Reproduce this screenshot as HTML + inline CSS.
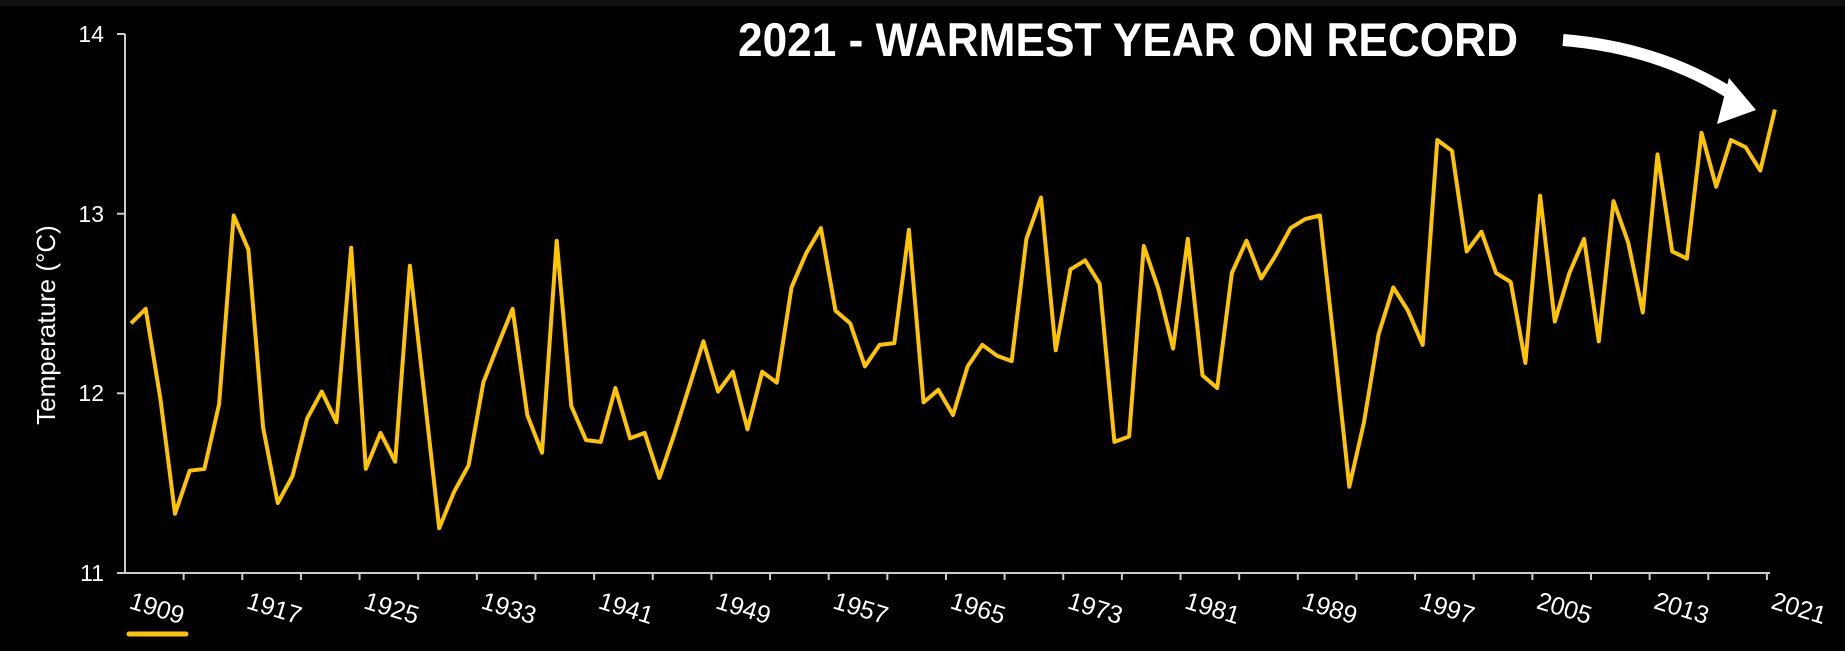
<!DOCTYPE html>
<html><head><meta charset="utf-8"><style>
html,body{margin:0;padding:0;background:#000;width:1845px;height:651px;overflow:hidden}
svg{display:block}
text{font-family:"Liberation Sans",sans-serif;fill:#fff}
</style></head><body>
<svg id="s" width="1845" height="651" viewBox="0 0 1845 651">
<rect x="0" y="0" width="1845" height="651" fill="#000"/>
<rect x="0" y="0" width="1845" height="6" fill="#111"/>
<g id="ax" stroke="#ccc" stroke-width="2" fill="none">
<line x1="125" y1="34" x2="125" y2="574"/>
<line x1="124" y1="573" x2="1770" y2="573"/>
<line x1="117" y1="34" x2="125" y2="34"/>
<line x1="117" y1="213.7" x2="125" y2="213.7"/>
<line x1="117" y1="393.3" x2="125" y2="393.3"/>
<line x1="117" y1="573" x2="125" y2="573"/>
</g>
<g font-size="23" text-anchor="end">
<text x="104" y="42">14</text>
<text x="104" y="222">13</text>
<text x="104" y="401">12</text>
<text x="104" y="581">11</text>
</g>
<text transform="translate(55,325) rotate(-90)" font-size="26" text-anchor="middle">Temperature (°C)</text>
<g id="xl" font-size="25"></g>
<line x1="129" y1="634" x2="186" y2="634" stroke="#FFC400" stroke-width="5" stroke-linecap="round"/>
<polyline id="pl" fill="none" stroke="#FFC400" stroke-width="4" stroke-linejoin="round" points=""/>
<text x="738" y="56" font-size="47" font-weight="bold" textLength="780" lengthAdjust="spacingAndGlyphs">2021 - WARMEST YEAR ON RECORD</text>
<path d="M1563,40 Q1662,48 1738,98" stroke="#fff" stroke-width="12" fill="none"/>
<polygon points="1729,78 1756,110 1717,124" fill="#fff"/>
</svg>
<script>
var d=[12.39,12.47,11.97,11.33,11.57,11.58,11.94,12.99,12.80,11.81,11.39,11.54,11.86,12.01,11.84,12.81,11.58,11.78,11.62,12.71,11.98,11.25,11.45,11.60,12.06,12.27,12.47,11.88,11.67,12.85,11.93,11.74,11.73,12.03,11.75,11.78,11.53,11.77,12.03,12.29,12.01,12.12,11.80,12.12,12.06,12.59,12.78,12.92,12.46,12.39,12.15,12.27,12.28,12.91,11.95,12.02,11.88,12.15,12.27,12.21,12.18,12.86,13.09,12.24,12.69,12.74,12.61,11.73,11.76,12.82,12.58,12.25,12.86,12.10,12.03,12.67,12.85,12.64,12.77,12.92,12.97,12.99,12.25,11.48,11.84,12.33,12.59,12.46,12.27,13.41,13.35,12.79,12.90,12.67,12.62,12.17,13.10,12.40,12.67,12.86,12.29,13.07,12.84,12.45,13.33,12.79,12.75,13.45,13.15,13.41,13.37,13.24,13.58];
var p=[];for(var i=0;i<d.length;i++){p.push((131+i*14.678).toFixed(1)+","+(34+(14-d[i])*179.7).toFixed(1));}
document.getElementById("pl").setAttribute("points",p.join(" "));
var ns="http://www.w3.org/2000/svg",ax=document.getElementById("ax"),xl=document.getElementById("xl");
for(var k=0;k<=28;k++){var x=125+k*58.64;
 if(k>0){var l=document.createElementNS(ns,"line");l.setAttribute("x1",x);l.setAttribute("x2",x);l.setAttribute("y1",573);l.setAttribute("y2",580);ax.appendChild(l);}
 if(k%2==0){var t=document.createElementNS(ns,"text");t.setAttribute("transform","translate("+(x+3)+",608) rotate(17)");t.textContent=1909+k*4;xl.appendChild(t);}
}
</script>
</body></html>
